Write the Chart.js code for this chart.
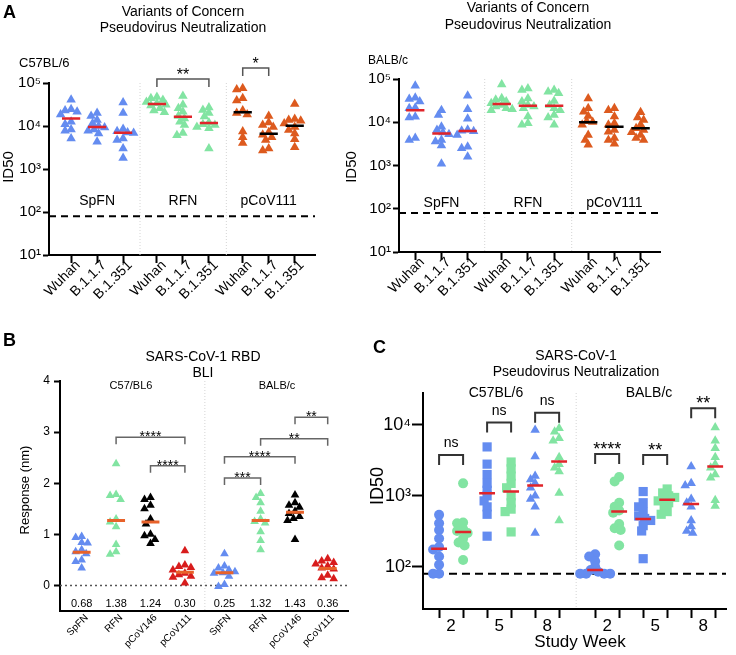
<!DOCTYPE html>
<html><head><meta charset="utf-8">
<script src="https://cdn.jsdelivr.net/npm/chart.js"></script>
<style>
html,body{margin:0;padding:0;background:#fff;}
#wrap{position:relative;width:736px;height:655px;overflow:hidden;background:#fff;}
canvas{position:absolute;left:0;top:0;}
</style></head><body>
<div id="wrap">
<canvas id="cA1" width="736" height="655"></canvas>
<canvas id="cA2" width="736" height="655"></canvas>
<canvas id="cB" width="736" height="655"></canvas>
<canvas id="cC" width="736" height="655"></canvas>
</div>
<script>
// ===================== DATA =====================
// Panel A: Variants of Concern pseudovirus neutralization (ID50)
const aCategories = ['Wuhan','B.1.1.7','B.1.351','Wuhan','B.1.1.7','B.1.351','Wuhan','B.1.1.7','B.1.351'];
const aGroups = ['SpFN','RFN','pCoV111'];
const aYTicks = [10, 100, 1000, 10000, 100000];
const aYTickLabels = ['10\u00B9','10\u00B2','10\u00B3','10\u2074','10\u2075'];
const aThreshold = 80;
const aC57Values = [
  [41000, 24500, 23000, 21500, 18600, 12600, 11000, 8300, 7800, 5100],
  [20000, 17000, 13800, 11600, 10000, 9200, 8300, 7800, 6700, 4300],
  [35000, 20000, 8500, 7600, 7100, 6900, 5100, 4700, 3000, 1800],
  [47000, 44000, 40000, 36000, 34000, 31000, 30000, 26000, 23000, 21000],
  [50000, 31000, 26000, 21500, 17000, 15000, 12500, 10500, 6900, 6100],
  [27000, 23500, 20000, 16600, 12000, 11000, 10500, 9500, 8900, 3000],
  [75000, 71000, 44000, 39000, 23000, 20000, 18600, 7400, 5500, 4000],
  [17000, 12000, 10500, 9500, 7200, 6300, 5500, 4700, 3000, 2700],
  [32500, 14500, 13800, 13200, 11500, 9500, 8100, 6700, 4900, 3200]
];
const aC57Medians = [15000, 9500, 7000, 32500, 16500, 11800, 21000, 6600, 10200];
const aBalbValues = [
  [70000, 37000, 34500, 30000, 21700, 21000, 13400, 12900, 4300, 3900],
  [19000, 14700, 7900, 6600, 5800, 5300, 3900, 3600, 2900, 1100],
  [41000, 20000, 12000, 6700, 6400, 6200, 5100, 2700, 2500, 1600],
  [75000, 36000, 33000, 30000, 27500, 25000, 23000, 21000, 20000, 19000],
  [60000, 56000, 35500, 30000, 25000, 23000, 21000, 13500, 9500, 8700],
  [56000, 51000, 46600, 31000, 25000, 21000, 19000, 14700, 12900, 8700],
  [35500, 21000, 17500, 14000, 10500, 10200, 8700, 5100, 3900, 3000],
  [21000, 19000, 13500, 9500, 8700, 6600, 6000, 4300, 3900, 3200],
  [17000, 12900, 11300, 8700, 7300, 6600, 5900, 5100, 4300, 3900]
];
const aBalbMedians = [19000, 5500, 6300, 26500, 24000, 24000, 10000, 7900, 7300];
// brackets: [fromCategory, toCategory, barLevel, label]
const aC57Brackets = [[3, 5, 124000, '**'], [6, 7, 224000, '*']];

// Panel B: SARS-CoV-1 RBD BLI response (nm)
const bCategories = ['SpFN','RFN','pCoV146','pCoV111','SpFN','RFN','pCoV146','pCoV111'];
const bYTicks = [0, 1, 2, 3, 4];
const bValues = [
  [0.96, 0.94, 0.84, 0.83, 0.70, 0.66, 0.62, 0.50, 0.47, 0.34],
  [2.38, 1.78, 1.76, 1.68, 1.30, 1.24, 1.15, 0.80, 0.66, 0.61],
  [1.72, 1.68, 1.57, 1.50, 1.30, 1.20, 1.00, 0.97, 0.90, 0.82],
  [0.68, 0.40, 0.37, 0.35, 0.30, 0.24, 0.21, 0.18, 0.16, 0.05],
  [0.62, 0.38, 0.34, 0.30, 0.27, 0.25, 0.24, 0.18, 0.02, -0.02],
  [1.80, 1.72, 1.62, 1.45, 1.30, 1.25, 1.22, 1.05, 0.88, 0.70],
  [1.77, 1.62, 1.57, 1.53, 1.45, 1.41, 1.35, 1.31, 1.27, 0.90],
  [0.52, 0.48, 0.45, 0.42, 0.38, 0.34, 0.32, 0.20, 0.15, 0.13]
];
const bMedians = [0.65, 1.27, 1.24, 0.26, 0.25, 1.27, 1.43, 0.33];
const bMeanLabels = ['0.68','1.38','1.24','0.30','0.25','1.32','1.43','0.36'];
const bMeanLabelLevel = -0.37;
const bBrackets = [[1, 3, 2.90, '****'], [2, 3, 2.34, '****'], [6, 7, 3.29, '**'], [5, 7, 2.87, '**'], [4, 6, 2.52, '****'], [4, 5, 2.10, '***']];

// Panel C: SARS-CoV-1 pseudovirus neutralization by study week
const cWeekLabels = ['2','5','8','2','5','8'];
const cYTicks = [100, 1000, 10000];
const cYTickLabels = ['10\u00B2','10\u00B3','10\u2074'];
const cThreshold = 80;
const cValues = [
  [540, 410, 330, 250, 190, 175, 140, 107, 80, 80],
  [1500, 420, 410, 340, 320, 300, 250, 220, 200, 125],
  [4900, 2800, 2000, 1500, 1200, 1000, 850, 700, 550, 270],
  [3000, 2400, 1900, 1500, 1300, 1000, 800, 650, 600, 310],
  [8500, 3600, 1900, 1700, 1500, 1300, 1000, 900, 700, 300],
  [9000, 8000, 6500, 6000, 3500, 2800, 2500, 2200, 1100, 450],
  [150, 140, 120, 100, 90, 85, 80, 80, 80, 80],
  [1850, 1600, 800, 700, 620, 580, 400, 350, 330, 200],
  [1150, 800, 700, 600, 520, 480, 450, 380, 320, 130],
  [1250, 1100, 1000, 950, 900, 850, 800, 700, 600, 550],
  [2600, 1500, 1400, 900, 800, 700, 450, 370, 320, 300],
  [9200, 6000, 4700, 3500, 2800, 2500, 2000, 1800, 870, 720]
];
const cMedians = [180, 310, 1090, 1150, 1400, 3050, 90, 600, 470, 880, 770, 2600];
const cBrackets = [[0, 1, 3780, 'ns'], [2, 3, 10800, 'ns'], [4, 5, 14900, 'ns'], [6, 7, 3900, '****'], [8, 9, 3780, '**'], [10, 11, 17200, '**']];

// ===================== STYLE / LAYOUT =====================
const BLUE = '#648cf0', GREEN = '#82e4a2', ORANGE = '#dd5a1e', RED = '#d81c1c', BLACK = '#000000';
const MRED = '#e0242a', MORANGE = '#e8622a';
const FONT = "'Liberation Sans', Arial, Helvetica, sans-serif";
const W = 736, H = 655;
Chart.defaults.font.family = FONT;
Chart.defaults.color = '#000';
Chart.defaults.animation = false;
Chart.defaults.events = [];

const aSlots = [0, 1, 2, 3.3, 4.3, 5.3, 6.6, 7.6, 8.6];
const aSeparators = [2.65, 5.97];
const bSlots = [0, 1, 2, 3, 4.15, 5.2, 6.2, 7.15];
const cSlots = [0, 1, 2, 3, 4, 5, 6.5, 7.5, 8.5, 9.5, 10.5, 11.5];
const cMid = [0.5, 2.5, 4.5, 7, 9, 11];

function drawText(ctx, s, x, y, o) {
  o = o || {};
  ctx.save();
  ctx.font = (o.weight || 'normal') + ' ' + (o.size || 14) + 'px ' + FONT;
  ctx.fillStyle = o.color || '#000';
  ctx.textAlign = o.align || 'center';
  ctx.textBaseline = o.base || 'middle';
  ctx.translate(x, y);
  if (o.rot) ctx.rotate(o.rot);
  ctx.fillText(s, 0, 0);
  ctx.restore();
}
function vLine(chart, xv, color, dash, lw) {
  const ctx = chart.ctx, a = chart.chartArea, px = chart.scales.x.getPixelForValue(xv);
  ctx.save(); ctx.strokeStyle = color; ctx.setLineDash(dash); ctx.lineWidth = lw;
  ctx.beginPath(); ctx.moveTo(px, a.top); ctx.lineTo(px, a.bottom); ctx.stroke(); ctx.restore();
}
function hLine(chart, yv, color, dash, lw) {
  const ctx = chart.ctx, a = chart.chartArea, py = chart.scales.y.getPixelForValue(yv);
  ctx.save(); ctx.strokeStyle = color; ctx.setLineDash(dash); ctx.lineWidth = lw;
  ctx.beginPath(); ctx.moveTo(a.left, py); ctx.lineTo(a.right, py); ctx.stroke(); ctx.restore();
}
function drawBracket(chart, slots, br, st) {
  const ctx = chart.ctx, xs = chart.scales.x, ys = chart.scales.y;
  const x1 = xs.getPixelForValue(slots[br[0]]), x2 = xs.getPixelForValue(slots[br[1]]);
  const y = ys.getPixelForValue(br[2]);
  ctx.save(); ctx.strokeStyle = st.color; ctx.lineWidth = st.lw; ctx.setLineDash([]);
  ctx.beginPath(); ctx.moveTo(x1, y + st.leg); ctx.lineTo(x1, y); ctx.lineTo(x2, y); ctx.lineTo(x2, y + st.leg); ctx.stroke();
  ctx.restore();
  const isNs = br[3] === 'ns';
  drawText(ctx, br[3], (x1 + x2) / 2, y + (isNs ? st.nsOff : st.starOff), {size: isNs ? st.nsSize : st.starSize, base: 'alphabetic'});
}

function pointSets(values, slots, colorFn, styleFn, radiusFn) {
  return values.map((vals, i) => ({
    type: 'scatter',
    data: vals.map(v => ({x: slots[i], y: v})),
    pointStyle: styleFn(i), pointRadius: radiusFn(i), pointHoverRadius: radiusFn(i),
    backgroundColor: colorFn(i), borderWidth: 0, order: 2
  }));
}
function medianSet(slots, medians, idxs, half, color, lw) {
  const data = [];
  idxs.forEach(i => {
    data.push({x: slots[i] - half, y: medians[i]}, {x: slots[i] + half, y: medians[i]}, {x: slots[i] + half, y: null});
  });
  return {type: 'line', data, borderColor: color, borderWidth: lw, pointRadius: 0, pointHoverRadius: 0,
          spanGaps: false, fill: false, tension: 0, order: 0, borderCapStyle: 'butt'};
}
function applySwarm(chart, values, slots, firstDs, minD, step) {
  const xs = chart.scales.x, ys = chart.scales.y;
  values.forEach((vals, g) => {
    const ds = chart.data.datasets[firstDs + g];
    const cx = xs.getPixelForValue(slots[g]);
    const order = vals.map((v, i) => i).sort((a, b) => vals[b] - vals[a]);
    const placed = [];
    order.forEach(i => {
      const py = ys.getPixelForValue(vals[i]);
      let off = 0;
      for (let k = 0; k < 80; k++) {
        const c = (k % 2 === 1 ? -1 : 1) * Math.ceil(k / 2) * step;
        if (placed.every(p => Math.hypot(p.x - c, p.y - py) >= minD)) { off = c; break; }
      }
      placed.push({x: off, y: py});
      ds.data[i].x = xs.getValueForPixel(cx + off);
    });
  });
  chart.update('none');
}
function axisCommon(tickLen, tickColor) {
  return {
    grid: {drawOnChartArea: false, drawTicks: tickLen > 0, tickLength: tickLen, tickWidth: 2, tickColor: tickColor || '#000'},
    border: {display: true, color: '#000', width: 2}
  };
}
function makeChart(id, area, xScale, yScale, datasets, plugin, yW, xH) {
  xScale.afterFit = s => { s.height = xH; };
  yScale.afterFit = s => { s.width = yW; };
  return new Chart(document.getElementById(id), {
    type: 'scatter',
    data: {datasets},
    options: {
      responsive: false, maintainAspectRatio: false, devicePixelRatio: 1,
      layout: {padding: {left: area.left - yW, top: area.top, right: W - area.right, bottom: H - area.bottom - xH}},
      scales: {x: xScale, y: yScale},
      plugins: {legend: {display: false}, tooltip: {enabled: false}, title: {display: false}}
    },
    plugins: [plugin]
  });
}

// ===================== PANEL A =====================
function panelA(id, area, xmin, xmax, values, medians, brackets, txt) {
  const colorFn = i => [BLUE, GREEN, ORANGE][Math.floor(i / 3)];
  const datasets = [
    medianSet(aSlots, medians, [0, 1, 2, 3, 4, 5], 0.35, MRED, 2.5),
    medianSet(aSlots, medians, [6, 7, 8], 0.35, BLACK, 2.5)
  ].concat(pointSets(values, aSlots, colorFn, () => 'triangle', () => 5.5));
  const x = Object.assign({
    type: 'linear', min: xmin, max: xmax,
    afterBuildTicks: s => { s.ticks = aSlots.map(v => ({value: v})); },
    ticks: {autoSkip: false, minRotation: 45, maxRotation: 45, font: {size: 14}, padding: -6, labelOffset: 7,
            callback: (v, i) => aCategories[i]}
  }, axisCommon(8));
  const y = Object.assign({
    type: 'logarithmic', min: 10, max: 100000,
    afterBuildTicks: s => { s.ticks = aYTicks.map(v => ({value: v})); },
    ticks: {autoSkip: false, font: {size: 15}, padding: 2, callback: (v, i) => aYTickLabels[i]}
  }, axisCommon(6));
  const plugin = {
    id: 'ann' + id,
    beforeDatasetsDraw(chart) {
      aSeparators.forEach(s => vLine(chart, s, '#d4d4d4', [1, 2], 1));
      hLine(chart, aThreshold, '#000', [7, 5], 2);
    },
    afterDraw(chart) {
      const ctx = chart.ctx, xs = chart.scales.x;
      if (txt.letter) drawText(ctx, txt.letter, 3, 13, {size: 18, weight: 'bold', align: 'left'});
      drawText(ctx, 'Variants of Concern', txt.cx, txt.t1, {size: 14});
      drawText(ctx, 'Pseudovirus Neutralization', txt.cx, txt.t2, {size: 14});
      drawText(ctx, txt.strain, txt.sx, txt.sy, {size: txt.ssize, align: 'left'});
      drawText(ctx, 'ID50', txt.idx, 167, {size: 15, rot: -Math.PI / 2});
      aGroups.forEach((g, k) => drawText(ctx, g, xs.getPixelForValue(aSlots[k * 3 + 1]), txt.gy, {size: 14}));
      brackets.forEach(b => drawBracket(chart, aSlots, b, {color: '#555', lw: 1.5, leg: 8, starOff: 1, starSize: 16, nsOff: -8, nsSize: 14}));
    }
  };
  const ch = makeChart(id, area, x, y, datasets, plugin, 45, 60);
  applySwarm(ch, values, aSlots, 2, 5.5, 1.5);
  return ch;
}
panelA('cA1', {left: 49, right: 315, top: 83, bottom: 255}, -0.85, 9.38, aC57Values, aC57Medians, aC57Brackets,
  {letter: 'A', cx: 183, t1: 12.5, t2: 28.5, strain: 'C57BL/6', sx: 19, sy: 63, ssize: 13, idx: 9, gy: 201});
panelA('cA2', {left: 399, right: 660, top: 79, bottom: 252}, -0.62, 9.34, aBalbValues, aBalbMedians, [],
  {letter: '', cx: 528, t1: 8.5, t2: 25, strain: 'BALB/c', sx: 368, sy: 61, ssize: 12, idx: 352, gy: 203});

// ===================== PANEL B =====================
(function () {
  const colorFn = i => [BLUE, GREEN, BLACK, RED][i % 4];
  const datasets = [medianSet(bSlots, bMedians, [0, 1, 2, 3, 4, 5, 6, 7], 0.26, MORANGE, 3)]
    .concat(pointSets(bValues, bSlots, colorFn, () => 'triangle', () => 5));
  const x = Object.assign({
    type: 'linear', min: -0.63, max: 7.74,
    afterBuildTicks: s => { s.ticks = bSlots.map(v => ({value: v})); },
    ticks: {autoSkip: false, minRotation: 45, maxRotation: 45, font: {size: 10}, padding: 1, labelOffset: 5,
            callback: (v, i) => bCategories[i]}
  }, axisCommon(0));
  const y = Object.assign({
    type: 'linear', min: -0.5, max: 4,
    afterBuildTicks: s => { s.ticks = bYTicks.map(v => ({value: v})); },
    ticks: {autoSkip: false, font: {size: 12}, padding: 4, callback: (v, i) => String(bYTicks[i])}
  }, axisCommon(6));
  const plugin = {
    id: 'annB',
    beforeDatasetsDraw(chart) {
      vLine(chart, 3.58, '#d4d4d4', [1, 2], 1);
      hLine(chart, 0, '#555', [2, 3], 1.5);
    },
    afterDraw(chart) {
      const ctx = chart.ctx, xs = chart.scales.x, ys = chart.scales.y;
      drawText(ctx, 'B', 3, 341, {size: 18, weight: 'bold', align: 'left'});
      drawText(ctx, 'SARS-CoV-1 RBD', 203, 357, {size: 14});
      drawText(ctx, 'BLI', 203, 373, {size: 14});
      drawText(ctx, 'C57/BL6', 131, 386, {size: 11});
      drawText(ctx, 'BALB/c', 277, 386, {size: 11});
      drawText(ctx, 'Response (nm)', 25, 490, {size: 13, rot: -Math.PI / 2});
      bMeanLabels.forEach((s, i) => drawText(ctx, s, xs.getPixelForValue(bSlots[i]), ys.getPixelForValue(bMeanLabelLevel), {size: 11}));
      bBrackets.forEach(b => drawBracket(chart, bSlots, b, {color: '#666', lw: 1.5, leg: 7, starOff: 4, starSize: 14, nsOff: -8, nsSize: 12}));
    }
  };
  const ch = makeChart('cB', {left: 60, right: 348, top: 381, bottom: 611}, x, y, datasets, plugin, 40, 44);
  applySwarm(ch, bValues, bSlots, 1, 6, 1.5);
})();

// ===================== PANEL C =====================
(function () {
  const colorFn = i => (i % 2 === 0 ? BLUE : GREEN);
  const styleFn = i => ['circle', 'rect', 'triangle'][Math.floor((i % 6) / 2)];
  const radiusFn = i => [5, 6.5, 5.5][Math.floor((i % 6) / 2)];
  const datasets = [medianSet(cSlots, cMedians, cSlots.map((v, i) => i), 0.33, MRED, 2.5)]
    .concat(pointSets(cValues, cSlots, colorFn, styleFn, radiusFn));
  const tickObjs = cSlots.map(v => ({value: v})).concat(cMid.map((v, i) => ({value: v, mid: i})))
    .sort((a, b) => a.value - b.value);
  const x = Object.assign({
    type: 'linear', min: -0.67, max: 11.95,
    afterBuildTicks: s => { s.ticks = tickObjs.map(t => Object.assign({}, t)); },
    ticks: {autoSkip: false, minRotation: 0, maxRotation: 0, font: {size: 17}, padding: -2,
            callback: (v, i, ticks) => (ticks[i].mid !== undefined ? cWeekLabels[ticks[i].mid] : '')}
  }, axisCommon(9));
  x.grid.tickColor = c => (c.tick && c.tick.mid === undefined ? '#000' : 'rgba(0,0,0,0)');
  const y = Object.assign({
    type: 'logarithmic', min: 25.4, max: 28200,
    afterBuildTicks: s => { s.ticks = cYTicks.map(v => ({value: v})); },
    ticks: {autoSkip: false, font: {size: 18}, padding: 1, callback: (v, i) => cYTickLabels[i]}
  }, axisCommon(11));
  const plugin = {
    id: 'annC',
    beforeDatasetsDraw(chart) {
      vLine(chart, 5.71, '#d4d4d4', [1, 2], 1);
      hLine(chart, cThreshold, '#000', [8, 5], 2);
    },
    afterDraw(chart) {
      const ctx = chart.ctx;
      drawText(ctx, 'C', 373, 348, {size: 18, weight: 'bold', align: 'left'});
      drawText(ctx, 'SARS-CoV-1', 576, 356, {size: 14});
      drawText(ctx, 'Pseudovirus Neutralization', 576, 372, {size: 14});
      drawText(ctx, 'C57BL/6', 496, 393, {size: 14});
      drawText(ctx, 'BALB/c', 649, 393, {size: 14});
      drawText(ctx, 'ID50', 378, 486, {size: 18, rot: -Math.PI / 2});
      drawText(ctx, 'Study Week', 580, 642, {size: 17});
      cBrackets.forEach(b => drawBracket(chart, cSlots, b, {color: '#333', lw: 2, leg: 10, starOff: 1, starSize: 18, nsOff: -8, nsSize: 14}));
    }
  };
  const ch = makeChart('cC', {left: 423, right: 726, top: 393, bottom: 609}, x, y, datasets, plugin, 50, 40);
  applySwarm(ch, cValues, cSlots, 1, 5.5, 1.5);
})();
</script>
</body></html>
